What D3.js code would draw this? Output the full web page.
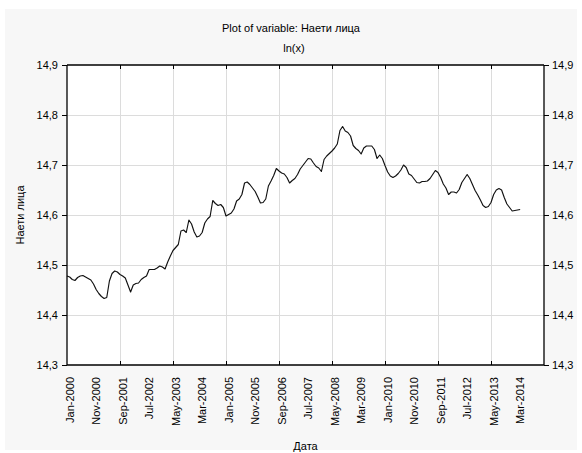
<!DOCTYPE html>
<html>
<head>
<meta charset="utf-8">
<script src="https://cdn.jsdelivr.net/npm/d3@7"></script>
<style>
  html, body { margin: 0; padding: 0; background: #ffffff; }
  svg { display: block; font-family: "Liberation Sans", Arial, sans-serif; }
</style>
</head>
<body>
<svg id="chart" width="582" height="453"></svg>
<script>
// Monthly series, ln(employed persons), starting Jan-2000
const lnEmployed = [
  14.478, 14.476, 14.471, 14.469, 14.475, 14.478, 14.479, 14.476, 14.473, 14.470,
  14.462, 14.451, 14.443, 14.437, 14.433, 14.435, 14.468, 14.483, 14.488, 14.486,
  14.481, 14.478, 14.474, 14.460, 14.446, 14.460, 14.463, 14.464, 14.471, 14.475,
  14.478, 14.491, 14.491, 14.491, 14.494, 14.498, 14.496, 14.492, 14.506, 14.518,
  14.529, 14.535, 14.541, 14.568, 14.570, 14.565, 14.590, 14.582, 14.566, 14.556,
  14.558, 14.565, 14.584, 14.592, 14.597, 14.629, 14.623, 14.619, 14.621, 14.615,
  14.598, 14.601, 14.604, 14.612, 14.628, 14.632, 14.641, 14.664, 14.666, 14.661,
  14.654, 14.647, 14.636, 14.624, 14.625, 14.632, 14.658, 14.668, 14.679, 14.693,
  14.688, 14.684, 14.682, 14.675, 14.664, 14.669, 14.673, 14.681, 14.692, 14.699,
  14.706, 14.713, 14.712, 14.704, 14.697, 14.694, 14.687, 14.711, 14.718, 14.723,
  14.728, 14.734, 14.742, 14.769, 14.777, 14.768, 14.765, 14.758, 14.739, 14.733,
  14.729, 14.722, 14.734, 14.738, 14.738, 14.738, 14.731, 14.713, 14.720, 14.713,
  14.699, 14.686, 14.678, 14.675, 14.678, 14.683, 14.690, 14.700, 14.695, 14.682,
  14.679, 14.672, 14.665, 14.664, 14.667, 14.667, 14.668, 14.673, 14.681, 14.689,
  14.685, 14.675, 14.662, 14.654, 14.641, 14.646, 14.646, 14.644, 14.651, 14.665,
  14.673, 14.681, 14.673, 14.661, 14.649, 14.640, 14.630, 14.619, 14.615, 14.617,
  14.625, 14.641, 14.650, 14.653, 14.650, 14.635, 14.622, 14.615, 14.608, 14.609,
  14.610, 14.611
];

// Category labels shown every 10 months
const tickLabels = [
  "Jan-2000", "Nov-2000", "Sep-2001", "Jul-2002", "May-2003", "Mar-2004",
  "Jan-2005", "Nov-2005", "Sep-2006", "Jul-2007", "May-2008", "Mar-2009",
  "Jan-2010", "Nov-2010", "Sep-2011", "Jul-2012", "May-2013", "Mar-2014"
];
const labelStep = 10;   // months between category labels
const gridStep = 20;    // months between vertical grid lines
const xMaxIndex = 180;  // axis runs Jan-2000 .. Jan-2015

const yTicks = [14.3, 14.4, 14.5, 14.6, 14.7, 14.8, 14.9];
const yDomain = [14.3, 14.9];

const titleText = "Plot of variable: Наети лица";
const subtitleText = "ln(x)";
const yTitle = "Наети лица";
const xTitle = "Дата";

const W = 582, H = 453;
const plot = { left: 67, right: 544, top: 65, bottom: 365 };

const svg = d3.select("#chart");
const fmt = v => d3.format(".1f")(v).replace(".", ",");

// outer panel
svg.append("rect")
  .attr("x", 5).attr("y", 9).attr("width", W - 10).attr("height", H - 12)
  .attr("fill", "#f7f7f7");

const x = d3.scaleLinear().domain([0, xMaxIndex]).range([plot.left, plot.right]);
const y = d3.scaleLinear().domain(yDomain).range([plot.bottom, plot.top]);

// plot background
svg.append("rect")
  .attr("x", plot.left).attr("y", plot.top)
  .attr("width", plot.right - plot.left).attr("height", plot.bottom - plot.top)
  .attr("fill", "#ffffff");

const gridIdx = d3.range(gridStep, xMaxIndex, gridStep);

// grid
svg.append("g").selectAll("line.h").data(yTicks.slice(1, -1)).join("line")
  .attr("x1", plot.left).attr("x2", plot.right)
  .attr("y1", d => y(d)).attr("y2", d => y(d))
  .attr("stroke", "#dcdcdc").attr("stroke-width", 1)
  .attr("shape-rendering", "crispEdges");
svg.append("g").selectAll("line.v").data(gridIdx).join("line")
  .attr("x1", d => x(d)).attr("x2", d => x(d))
  .attr("y1", plot.top).attr("y2", plot.bottom)
  .attr("stroke", "#dcdcdc").attr("stroke-width", 1)
  .attr("shape-rendering", "crispEdges");

// series line
const line = d3.line().x((d, i) => x(i)).y(d => y(d));
svg.append("path")
  .datum(lnEmployed)
  .attr("d", line)
  .attr("fill", "none")
  .attr("stroke", "#111")
  .attr("stroke-width", 1.15)
  .attr("stroke-linejoin", "round");

// y axes (left and right)
const yAxisL = d3.axisLeft(y).tickValues(yTicks).tickSize(5).tickPadding(4).tickFormat(fmt);
const yAxisR = d3.axisRight(y).tickValues(yTicks).tickSize(5).tickPadding(3).tickFormat(fmt);
const gL = svg.append("g").attr("transform", `translate(${plot.left},0)`).call(yAxisL);
const gR = svg.append("g").attr("transform", `translate(${plot.right},0)`).call(yAxisR);

// x axes: ticks inward at grid positions
const xAxisB = d3.axisBottom(x).tickValues(gridIdx).tickSize(-4).tickFormat("");
const xAxisT = d3.axisTop(x).tickValues(gridIdx).tickSize(-4).tickFormat("");
const gB = svg.append("g").attr("transform", `translate(0,${plot.bottom})`).call(xAxisB);
const gT = svg.append("g").attr("transform", `translate(0,${plot.top})`).call(xAxisT);

[gL, gR, gB, gT].forEach(g => {
  g.select(".domain").attr("stroke", "#000").attr("stroke-width", 1.3);
  g.selectAll(".tick line").attr("stroke", "#000");
  g.selectAll("text").attr("font-size", 11).attr("fill", "#000")
    .attr("font-family", "'Liberation Sans', Arial, sans-serif");
});
gR.select(".domain").attr("d", `M0,${plot.top}V${plot.bottom}`);
gL.select(".domain").attr("d", `M0,${plot.top}V${plot.bottom}`);
gB.select(".domain").attr("d", `M${plot.left},0H${plot.right}`);
gT.select(".domain").attr("d", `M${plot.left},0H${plot.right}`);

// category labels, rotated
svg.append("g").selectAll("text").data(tickLabels).join("text")
  .attr("transform", (d, i) => `translate(${x(i * labelStep) + 6.5},${plot.bottom + 12}) rotate(-90)`)
  .attr("text-anchor", "end")
  .attr("font-size", 11)
  .text(d => d);

// titles
svg.append("text").attr("x", 291).attr("y", 32).attr("text-anchor", "middle")
  .attr("font-size", 11).text(titleText);
svg.append("text").attr("x", 294).attr("y", 52).attr("text-anchor", "middle")
  .attr("font-size", 11).text(subtitleText);
svg.append("text")
  .attr("transform", `translate(24,${(plot.top + plot.bottom) / 2}) rotate(-90)`)
  .attr("text-anchor", "middle").attr("font-size", 11).text(yTitle);
svg.append("text").attr("x", (plot.left + plot.right) / 2).attr("y", 450)
  .attr("text-anchor", "middle").attr("font-size", 11).text(xTitle);
</script>
</body>
</html>
